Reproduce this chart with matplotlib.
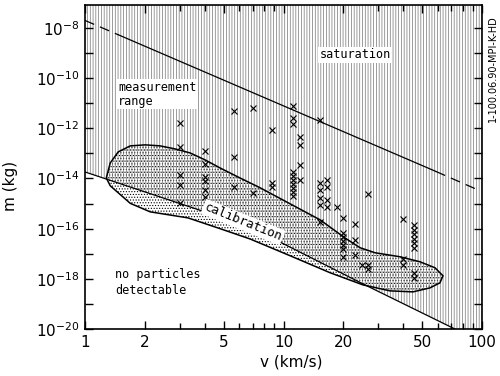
import numpy as np
import matplotlib
matplotlib.use("Agg")
import matplotlib.pyplot as plt
from matplotlib.ticker import FixedLocator, NullFormatter

plt.rcParams["font.family"] = "DejaVu Sans"
plt.rcParams["hatch.linewidth"] = 0.5

# saturation limit (upper line), log10 of mass
sat_v = [1.0, 1.47, 58.6, 92.0]
sat_logm = [-7.70, -8.27, -13.72, -14.40]

# detection limit (lower line)
det_v = [1.0, 6.78, 25.1, 73.0]
det_logm = [-13.74, -15.93, -18.20, -20.0]

# calibration area outline
cal_v = [1.28, 1.34, 1.47, 1.69, 2.01, 2.39, 2.84, 3.38, 4.03, 4.79, 6.04, 7.62,
         10.8, 15.3, 20.4, 24.3, 28.9, 38.6, 48.7, 58.0, 63.6, 61.4, 54.7, 44.9,
         34.4, 25.1, 17.2, 10.8, 6.78, 4.79, 3.30, 2.13, 1.69, 1.47, 1.34]
cal_logm = [-13.98, -13.38, -12.94, -12.70, -12.66, -12.70, -12.82, -12.98, -13.26,
            -13.58, -13.98, -14.37, -15.01, -15.65, -16.37, -16.76, -16.96, -17.12,
            -17.32, -17.56, -17.88, -18.16, -18.36, -18.52, -18.48, -18.24, -17.76,
            -17.08, -16.41, -16.00, -15.57, -15.33, -14.99, -14.57, -14.29]

# measured particles
obs_v = [3.0] * 5 + [4.0] * 6 + [5.6] * 3 + [7.0] * 2 + [8.8] * 3 + [11.2] * 10 \
    + [12.1] * 4 + [15.3] * 6 + [16.6] * 4 + [18.6] + [20.0] * 7 + [22.9] * 3 \
    + [24.8] + [26.7] * 3 + [40.0] * 3 + [45.4] * 8
obs_logm = [-11.78, -12.74, -13.86, -14.25, -14.97,
            -12.90, -13.42, -13.94, -14.10, -14.45, -14.73,
            -11.31, -13.14, -14.33,
            -11.19, -14.57,
            -12.06, -14.18, -14.33,
            -11.11, -11.59, -11.82, -13.74, -13.90, -14.06, -14.22, -14.37, -14.53, -14.69,
            -12.34, -12.66, -13.46, -14.06,
            -11.67, -14.18, -14.45, -14.77, -15.05, -15.73,
            -14.06, -14.33, -14.85, -15.13,
            -15.13,
            -15.57, -16.17, -16.33, -16.49, -16.65, -16.80, -17.12,
            -15.81, -16.45, -17.04,
            -17.44,
            -14.61, -17.44, -17.60,
            -15.61, -17.20, -17.44,
            -15.85, -16.05, -16.21, -16.41, -16.57, -16.76, -17.76, -17.96]

xmin, xmax = 1, 100
ymin, ymax = 1e-20, 10 ** -7.08

fig = plt.figure(figsize=(5, 3.76), dpi=100)
ax = fig.add_axes([0.17, 0.125, 0.794, 0.862])
ax.set_xscale("log")
ax.set_yscale("log")
ax.set_xlim(xmin, xmax)
ax.set_ylim(ymin, ymax)

det_m = 10 ** np.array(det_logm)
sat_m = 10 ** np.array(sat_logm)
cal_m = 10 ** np.array(cal_logm)

# hatched measurement area above the detection line
hx = list(det_v) + [xmax, xmax, xmin]
hy = list(det_m) + [ymin, ymax, ymax]
ax.fill(hx, hy, facecolor="none", edgecolor="0.45", linewidth=0, hatch="|" * 6, zorder=1)

# calibration area: dots everywhere, dots + lines where it overlaps the measurement area
dots = ax.fill(cal_v, cal_m, facecolor="white", edgecolor="k", hatch="." * 6,
               linewidth=0, zorder=2)[0]
both = ax.fill(hx, hy, facecolor="none", edgecolor="0.45", linewidth=0,
               hatch="|" * 6, zorder=2.5)[0]
both.set_clip_path(dots)
ax.fill(cal_v, cal_m, facecolor="none", edgecolor="k", linewidth=1.1, zorder=3)

# saturation line: dashed ends, solid middle
ax.plot(sat_v[:2], sat_m[:2], color="k", lw=0.9, dashes=(8, 5), zorder=4)
ax.plot(sat_v[1:3], sat_m[1:3], color="k", lw=0.9, zorder=4)
ax.plot(sat_v[2:], sat_m[2:], color="k", lw=0.9, dashes=(8, 5), zorder=4)

# detection line
ax.plot(det_v, det_m, color="k", lw=0.9, zorder=4)

ax.plot(obs_v, 10 ** np.array(obs_logm), "x", color="k", ms=4.2, mew=0.8, zorder=5)

box = dict(facecolor="white", edgecolor="none", pad=1.0)
ax.text(0.68, 0.846, "saturation", transform=ax.transAxes, family="DejaVu Sans Mono",
        fontsize=8.5, ha="center", va="center", bbox=box, zorder=6)
ax.text(0.083, 0.725, "measurement\nrange", transform=ax.transAxes,
        family="DejaVu Sans Mono", fontsize=8.5, ha="left", va="center",
        linespacing=1.1, bbox=box, zorder=6)
ax.text(0.075, 0.142, "no particles\ndetectable", transform=ax.transAxes,
        family="DejaVu Sans Mono", fontsize=8.5, ha="left", va="center",
        linespacing=1.3, zorder=6)
ax.text(0.398, 0.33, "calibration", transform=ax.transAxes, family="DejaVu Sans Mono",
        fontsize=9, ha="center", va="center", rotation=-22,
        rotation_mode="anchor", bbox=box, zorder=6)

# ticks
xmaj = [1, 2, 5, 10, 20, 50, 100]
ax.xaxis.set_major_locator(FixedLocator(xmaj))
ax.set_xticklabels([str(t) for t in xmaj])
xminor = [3, 4, 6, 7, 8, 9, 30, 40, 60, 70, 80, 90]
ax.xaxis.set_minor_locator(FixedLocator(xminor))
ax.xaxis.set_minor_formatter(NullFormatter())

ydec = list(range(-20, -7))
ax.yaxis.set_major_locator(FixedLocator([10.0 ** d for d in ydec]))
ax.set_yticklabels(["$10^{%d}$" % d if d % 2 == 0 else "" for d in ydec])
ax.yaxis.set_minor_locator(FixedLocator([]))

ax.tick_params(which="both", direction="in", top=True, right=True, width=1.0,
               labelsize=11, pad=4)
ax.tick_params(which="major", length=6)
ax.tick_params(which="minor", length=4)
for s in ax.spines.values():
    s.set_linewidth(1.2)

fig.text(0.02, 0.505, "m (kg)", rotation=90, fontsize=11, ha="center", va="center")
fig.text(0.582, 0.037, "v (km/s)", fontsize=11, ha="center", va="center")
fig.text(0.985, 0.817, "1-100.06.90-MPI-K-HD", rotation=90, fontsize=7,
         ha="center", va="center")

fig.savefig("out.png", dpi=100)
